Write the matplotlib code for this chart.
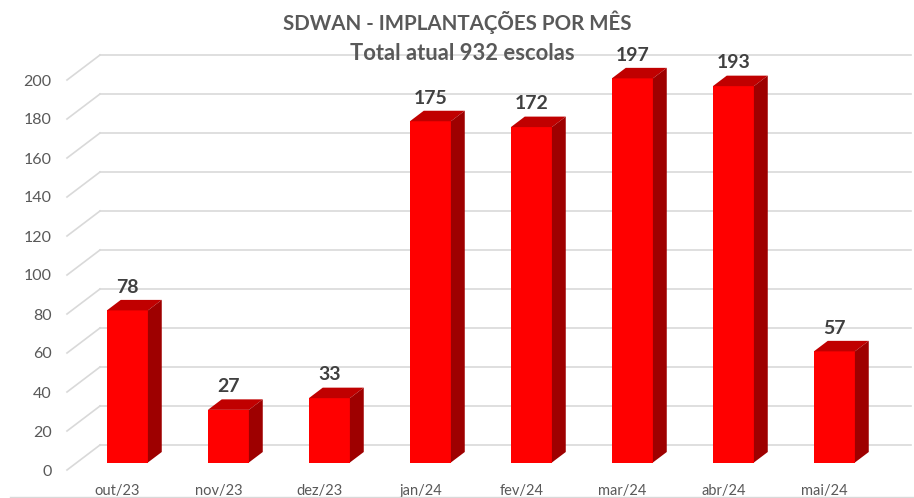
import matplotlib
matplotlib.use("Agg")
import matplotlib.pyplot as plt
from matplotlib.patches import Polygon
from matplotlib.lines import Line2D

# Data
months = ["out/23", "nov/23", "dez/23", "jan/24", "fev/24", "mar/24", "abr/24", "mai/24"]
implantacoes = [78, 27, 33, 175, 172, 197, 193, 57]
y_ticks = [0, 20, 40, 60, 80, 100, 120, 140, 160, 180, 200]

title = "SDWAN - IMPLANTAÇÕES POR MÊS"
subtitle = "Total atual 932 escolas"

plt.rcParams['font.family'] = ['Lato', 'DejaVu Sans']

W, H = 914, 498
fig = plt.figure(figsize=(W / 100, H / 100), dpi=100)

# pixel geometry of the front plane
x0_px, y0_px = 67, 470      # front-left corner of the plot (y from top)
px_per_cat = 101
px_per_unit = 1.95

ax = fig.add_axes([x0_px / W, (H - y0_px) / H, (W - x0_px) / W, y0_px / H])
ax.set_xlim(-0.5, -0.5 + (W - x0_px) / px_per_cat)
ax.set_ylim(0, y0_px / px_per_unit)
for s in ax.spines.values():
    s.set_visible(False)

# 3D depth of the whole plot (in data units) and the bars inside it
depth_x, depth_y = 33 / px_per_cat, 25 / px_per_unit
bar_pos = 0.3
bar_depth = 0.42
bar_w = 0.406
off_x, off_y = depth_x * bar_pos, depth_y * bar_pos
dx, dy = depth_x * bar_depth, depth_y * bar_depth

grid_c = "#D9D9D9"
back_right = 7.5 + depth_x + 0.03
for v in y_ticks:
    ax.plot([-0.5, -0.5 + depth_x], [v, v + depth_y], color=grid_c, lw=1.2,
            clip_on=False, zorder=1)
    ax.plot([-0.5 + depth_x, back_right], [v + depth_y, v + depth_y], color=grid_c,
            lw=1.2, clip_on=False, zorder=1)

front_c, top_c, side_c = "#FF0000", "#C00000", "#9E0000"
xs = [i + off_x for i in range(len(months))]
ax.bar(xs, implantacoes, width=bar_w, bottom=off_y, color=front_c, zorder=3)
for x, v in zip(xs, implantacoes):
    xl, xr = x - bar_w / 2, x + bar_w / 2
    top = v + off_y
    ax.add_patch(Polygon([(xl, top), (xr, top), (xr + dx, top + dy), (xl + dx, top + dy)],
                         closed=True, facecolor=top_c, edgecolor="none", zorder=3))
    ax.add_patch(Polygon([(xr, off_y), (xr, top), (xr + dx, top + dy), (xr + dx, off_y + dy)],
                         closed=True, facecolor=side_c, edgecolor="none", zorder=3))
    ax.annotate(str(v), xy=(x, top + dy), xytext=(0, 3), textcoords="offset points",
                ha="center", va="bottom", fontsize=14, fontweight="bold",
                color="#404040", zorder=4)

ax.set_yticks(y_ticks)
ax.set_yticklabels([str(v) for v in y_ticks])
ax.set_xticks(range(len(months)))
ax.set_xticklabels(months)
ax.tick_params(axis="y", length=0, pad=11, labelsize=11.5, labelcolor="#595959")
ax.tick_params(axis="x", length=0, pad=10, labelsize=10.5, labelcolor="#595959")

fig.text(457 / W, 1 - 22 / H, title, ha="center", va="center", fontsize=14.8,
         fontweight="bold", color="#595959")
fig.text(462 / W, 1 - 54 / H, subtitle, ha="center", va="center", fontsize=15.8,
         fontweight="bold", color="#595959")

fig.add_artist(Line2D([10 / W, 1], [1.5 / H, 1.5 / H], color=grid_c, lw=1))

fig.savefig("out.png", dpi=100)
